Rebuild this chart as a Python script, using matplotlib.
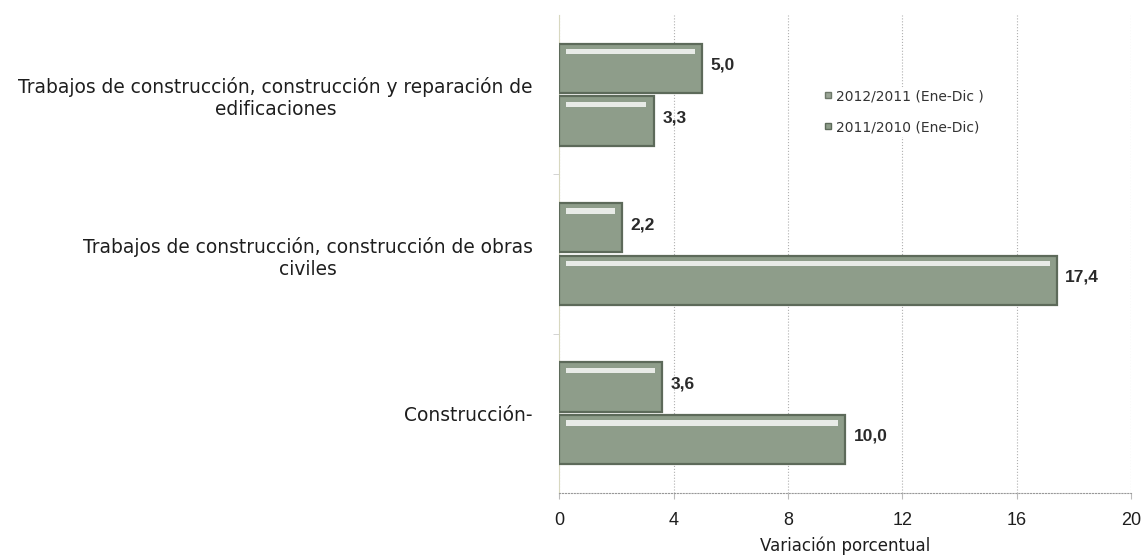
"""Variacion porcentual de trabajos de construccion, barras horizontales."""

import matplotlib
matplotlib.use("Agg")
import matplotlib.pyplot as plt
import numpy as np

categories = [
    "Construcción-",
    "Trabajos de construcción, construcción de obras\nciviles",
    "Trabajos de construcción, construcción y reparación de\nedificaciones",
]
series_names = ["2012/2011 (Ene-Dic )", "2011/2010 (Ene-Dic)"]
values_2012 = [3.6, 2.2, 5.0]
values_2011 = [10.0, 17.4, 3.3]
x_ticks = [0, 4, 8, 12, 16, 20]

plt.rcParams["font.family"] = ["DejaVu Sans"]
narrow = ["Liberation Sans", "DejaVu Sans"]

bar_color = "#8e9d8a"
edge_color = "#5d6a5a"
text_color = "#1e1e1e"
bar_h = 0.31
offset = 0.165

fig = plt.figure(figsize=(11.46, 5.59), dpi=100)
ax = fig.add_axes([0.488, 0.118, 0.499, 0.855])

y = np.arange(len(categories))

for vals, off in ((values_2012, offset), (values_2011, -offset)):
    vals = np.array(vals)
    ax.barh(y + off, vals, height=bar_h, color=bar_color,
            edgecolor=edge_color, linewidth=1.6, zorder=3)
    # bevel highlight along the top of each bar
    ax.barh(y + off + bar_h * 0.34, vals - 0.5, left=0.25, height=bar_h * 0.11,
            color="white", alpha=0.8, linewidth=0, zorder=4)
    for yy, v in zip(y + off, vals):
        ax.text(v + 0.3, yy + 0.02, f"{v:.1f}".replace(".", ","),
                va="center", ha="left", fontsize=12.5, fontweight="bold",
                family=narrow, color="#2a2a2a", zorder=5)

ax.set_xlim(0, 20)
ax.set_ylim(-0.5, 2.5)
ax.set_xticks(x_ticks)
ax.set_xticklabels([str(t) for t in x_ticks], fontsize=13, family=narrow,
                   color=text_color)
ax.set_xlabel("Variación porcentual", fontsize=12, color=text_color, labelpad=5)

ax.set_yticks(y)
ax.set_yticklabels(categories, fontsize=13.4, color=text_color,
                   multialignment="center")
ax.tick_params(axis="y", length=0, pad=19)
ax.set_yticks([0.5, 1.5], minor=True)
ax.tick_params(axis="y", which="minor", length=4, color="#cccccc", direction="out")
ax.tick_params(axis="x", length=4, color="#bbbbbb", pad=10)

ax.grid(axis="x", linestyle=":", color="#b0b0b0", linewidth=0.8, zorder=0)
for s in ("top", "right"):
    ax.spines[s].set_visible(False)
ax.spines["left"].set_color("#d8d8c0")
ax.spines["bottom"].set_color("#999999")
ax.spines["bottom"].set_linestyle(":")

handles = [
    plt.Line2D([], [], marker="s", linestyle="", markersize=4,
               markerfacecolor="#9aa596", markeredgecolor="#6d7869"),
    plt.Line2D([], [], marker="s", linestyle="", markersize=4,
               markerfacecolor="#8e9d8a", markeredgecolor="#5d6a5a"),
]
leg = ax.legend(handles, series_names, loc="upper left",
                bbox_to_anchor=(0.44, 0.865), frameon=True, fontsize=10,
                handletextpad=0.1, handlelength=1.0, labelspacing=1.2,
                borderpad=0.2)
leg.get_frame().set_facecolor("white")
leg.get_frame().set_edgecolor("none")
leg.get_frame().set_alpha(1.0)
leg.set_zorder(6)
for t in leg.get_texts():
    t.set_color("#333333")

fig.savefig("out.png", dpi=100)
